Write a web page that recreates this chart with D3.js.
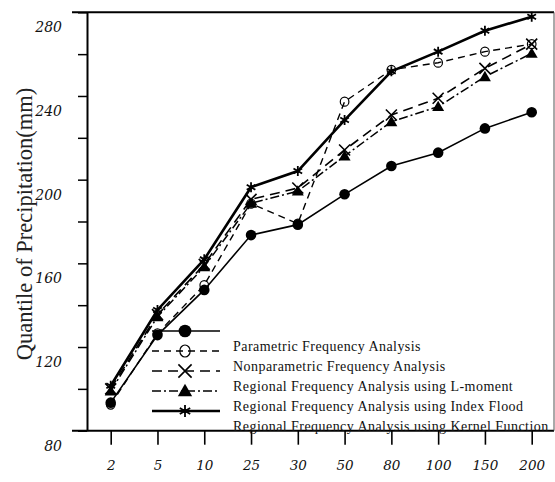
<!DOCTYPE html>
<html>
<head>
<meta charset="utf-8">
<script src="https://cdnjs.cloudflare.com/ajax/libs/d3/7.8.5/d3.min.js"></script>
<style>
  body { margin: 0; background: #fff; }
  svg { display: block; }
</style>
</head>
<body>
<div id="chart"></div>
<script>
// return periods (x categories)
var periods = ["2", "5", "10", "25", "30", "50", "80", "100", "150", "200"];

// quantiles (mm)
var parametric    = [93.4, 125.7, 147.3, 173.5, 178.5, 193.0, 206.5, 212.9, 224.5, 232.2];
var nonparametric = [92.5, 126.5, 149.6, 188.5, 179.0, 237.3, 252.5, 255.9, 261.2, 264.8];
var lMoment       = [100.0, 135.5, 159.5, 190.6, 196.0, 214.2, 230.9, 238.9, 253.2, 264.8];
var indexFlood    = [99.0, 134.5, 158.4, 188.7, 194.5, 211.3, 227.7, 234.9, 249.2, 260.4];
var kernel        = [101.5, 137.7, 161.9, 196.4, 204.1, 228.5, 251.8, 261.2, 271.2, 277.9];

var seriesNames = [
    "Parametric Frequency Analysis",
    "Nonparametric Frequency Analysis",
    "Regional Frequency Analysis using L-moment",
    "Regional Frequency Analysis using Index Flood",
    "Regional Frequency Analysis using Kernel Function"
];

var yTicks = [80, 100, 120, 140, 160, 180, 200, 220, 240, 260, 280];

const width = 555, height = 482;
const plot = {left: 87, right: 554, top: 12.3, bottom: 430.7};

const svg = d3.select("#chart")
    .append("svg")
    .attr("width", width)
    .attr("height", height);

const xScale = d3.scalePoint()
    .domain(periods)
    .range([110.7, 531.7])
    .padding(0);

const yScale = d3.scaleLinear()
    .domain([80, 280])
    .range([plot.bottom, plot.top]);

// series styling
const series = [
    {values: parametric,    dash: null,          width: 1.6, marker: "dot"},
    {values: nonparametric, dash: "7,5",         width: 1.4, marker: "ring"},
    {values: lMoment,       dash: "10,6",        width: 1.6, marker: "cross"},
    {values: indexFlood,    dash: "9,3,2,3",     width: 1.5, marker: "tri"},
    {values: kernel,        dash: null,          width: 2.6, marker: "star"}
];

function drawMarker(g, type, cx, cy, big) {
    const s = big ? 1.2 : 1;
    if (type == "dot") {
        g.append("circle").attr("cx", cx).attr("cy", cy).attr("r", 5.3 * s).attr("fill", "#000");
    } else if (type == "ring") {
        g.append("ellipse").attr("cx", cx).attr("cy", cy)
            .attr("rx", 4.3 * s).attr("ry", (big ? 6 : 4.5))
            .attr("fill", "none").attr("stroke", "#000").attr("stroke-width", 1.2);
    } else if (type == "cross") {
        const r = 5.5 * s;
        g.append("path")
            .attr("d", `M${cx - r},${cy - r}L${cx + r},${cy + r}M${cx - r},${cy + r}L${cx + r},${cy - r}`)
            .attr("stroke", "#000").attr("stroke-width", 1.6).attr("fill", "none");
    } else if (type == "tri") {
        g.append("path")
            .attr("transform", `translate(${cx},${cy + 1})`)
            .attr("d", d3.symbol().type(d3.symbolTriangle).size(62 * s * s)())
            .attr("fill", "#000");
    } else if (type == "star") {
        g.append("path")
            .attr("transform", `translate(${cx},${cy})`)
            .attr("d", d3.symbol().type(d3.symbolAsterisk).size(70 * s * s)())
            .attr("fill", "none").attr("stroke", "#000").attr("stroke-width", 1.8);
        g.append("circle").attr("cx", cx).attr("cy", cy).attr("r", 1.8 * s).attr("fill", "#000");
    }
}

// frame: top and bottom lines run a bit left of the y axis, right border thin
svg.append("line")
    .attr("x1", 72).attr("x2", plot.right)
    .attr("y1", plot.top).attr("y2", plot.top)
    .attr("stroke", "#000").attr("stroke-width", 2);
svg.append("line")
    .attr("x1", 72).attr("x2", plot.right)
    .attr("y1", plot.bottom).attr("y2", plot.bottom)
    .attr("stroke", "#000").attr("stroke-width", 2);
svg.append("line")
    .attr("x1", plot.right).attr("x2", plot.right)
    .attr("y1", plot.top).attr("y2", plot.bottom)
    .attr("stroke", "#555").attr("stroke-width", 1);

// y axis
const yAxis = d3.axisLeft(yScale)
    .tickValues(yTicks)
    .tickSize(9)
    .tickSizeOuter(0)
    .tickFormat(d => d % 40 == 0 ? d : "");

const yAxisGroup = svg.append("g")
    .attr("class", "y-axis")
    .attr("transform", `translate(${plot.left},0)`)
    .call(yAxis);
yAxisGroup.select(".domain").attr("stroke-width", 2);
yAxisGroup.selectAll(".tick line").attr("stroke-width", 1.5);
yAxisGroup.selectAll(".tick text")
    .attr("x", -25)
    .attr("y", 15)
    .style("font-family", "DejaVu Serif")
    .style("font-style", "italic")
    .style("font-size", "14px")
    .attr("fill", "#111");

// x axis
const xAxis = d3.axisBottom(xScale)
    .tickSize(14)
    .tickSizeOuter(0);

const xAxisGroup = svg.append("g")
    .attr("class", "x-axis")
    .attr("transform", `translate(0,${plot.bottom})`)
    .call(xAxis);
xAxisGroup.select(".domain").remove();
xAxisGroup.selectAll(".tick line").attr("stroke-width", 1.6);
xAxisGroup.selectAll(".tick text")
    .attr("y", 30)
    .style("font-family", "DejaVu Serif")
    .style("font-style", "italic")
    .style("font-size", "13.5px")
    .attr("fill", "#111");

// y axis label
svg.append("text")
    .attr("transform", "translate(32,224) rotate(-90)")
    .style("text-anchor", "middle")
    .style("font-family", "Liberation Serif")
    .style("font-size", "22.5px")
    .attr("fill", "#222")
    .text("Quantile of Precipitation(mm)");

// lines
const line = d3.line()
    .x((d, i) => xScale(periods[i]))
    .y(d => yScale(d));

const marks = svg.append("g");
series.forEach(function(s) {
    marks.append("path")
        .datum(s.values)
        .attr("fill", "none")
        .attr("stroke", "#000")
        .attr("stroke-width", s.width)
        .attr("stroke-dasharray", s.dash)
        .attr("d", line);
});
series.forEach(function(s) {
    s.values.forEach(function(v, i) {
        drawMarker(marks, s.marker, xScale(periods[i]), yScale(v), false);
    });
});

// legend
const legend = svg.append("g").attr("class", "legend");
series.forEach(function(s, i) {
    const ly = 331 + i * 20;
    legend.append("line")
        .attr("x1", 152).attr("x2", 220)
        .attr("y1", ly).attr("y2", ly)
        .attr("stroke", "#000")
        .attr("stroke-width", s.width)
        .attr("stroke-dasharray", s.dash);
    drawMarker(legend, s.marker, 185, ly, true);
    legend.append("text")
        .attr("x", 233)
        .attr("y", ly + 15)
        .attr("dy", "0.35em")
        .style("font-family", "Liberation Serif")
        .style("font-size", "14px")
        .style("letter-spacing", "0.45px")
        .attr("fill", "#111")
        .text(seriesNames[i]);
});
</script>
</body>
</html>
